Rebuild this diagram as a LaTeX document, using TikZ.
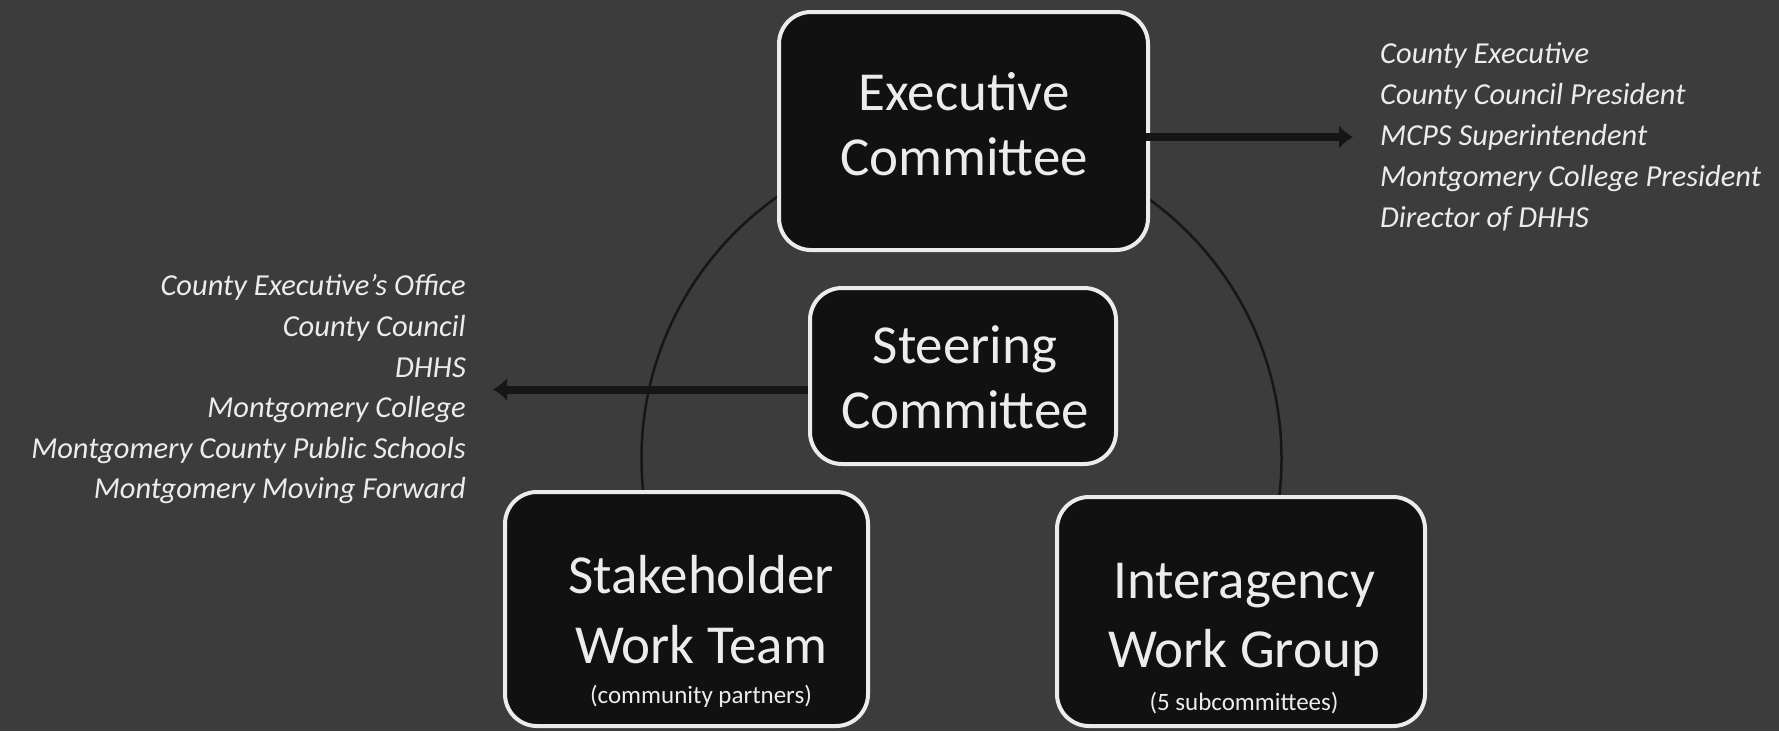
\documentclass[tikz,border=0pt]{standalone}
\usepackage{fontspec}
\setmainfont{Carlito}
\usetikzlibrary{arrows.meta, positioning, calc}
\definecolor{slate}{RGB}{60,60,60}
\definecolor{panelfill}{RGB}{17,17,17}
\definecolor{chalk}{RGB}{236,236,236}
\definecolor{ink}{RGB}{22,22,22}

\tikzset{
  panel/.style={draw=chalk, line width=4pt, fill=panelfill, rounded corners=32pt},
  title/.style={text=chalk, align=center, inner sep=0pt, font=\fontsize{55}{65}\selectfont},
  roster/.style={text=chalk, inner xsep=27pt, inner ysep=0pt},
  bigarrow/.style={draw=ink, line width=8pt, -{Latex[length=14pt,width=24pt]}},
}

\begin{document}
\begin{tikzpicture}[x=1pt, y=-1pt]
\useasboundingbox (0,0) rectangle (1779,731);
\fill[slate] (0,0) rectangle (1779,731);
\clip (0,0) rectangle (1779,731);

% ring behind the boxes
\begin{scope}
\clip (0,0) rectangle (1779,700);
\draw[ink, line width=2.5pt] (961.5,458.5) circle[radius=320pt];
\end{scope}

\node[panel, minimum width=369pt, minimum height=238pt] (exec) at (963.5,131) {};
\node[title] (exectext) at (964,124.5) {Executive\\Committee};

\node[panel, minimum width=306pt, minimum height=176pt] (steer) at (963,376) {};
\node[title] (steertext) at (965,377) {Steering\\Committee};

\node[panel, minimum width=363pt, minimum height=234pt] (stake) at (686.5,609) {};
\node[title] (staketext) at (701,631) {Stakeholder\\[5pt]Work Team\\[-25pt]{\fontsize{25}{30}\selectfont (community partners)}};

\node[panel, minimum width=368pt, minimum height=229pt] (inter) at (1241,611.5) {};
\node[title] (intertext) at (1244,638.5) {Interagency\\[4pt]Work Group\\[-22pt]{\fontsize{25}{30}\selectfont (5 subcommittees)}};

% member lists
\node[roster, anchor=west, align=left, font=\fontsize{30.5}{41}\selectfont\itshape] (execlist) at (1353,137)
  {County Executive\\County Council President\\MCPS Superintendent\\Montgomery College President\\Director of DHHS};
\node[roster, anchor=east, align=right, font=\fontsize{30.5}{40.6}\selectfont\itshape] (members) at (493,389.5)
  {County Executive's Office\\County Council\\DHHS\\Montgomery College\\Montgomery County Public Schools\\Montgomery Moving Forward};

\draw[bigarrow] ([xshift=-4pt]exec.east |- execlist.west) -- (execlist.west);
\draw[bigarrow] (steer.west |- members.east) -- (members.east);
\end{tikzpicture}
\end{document}
